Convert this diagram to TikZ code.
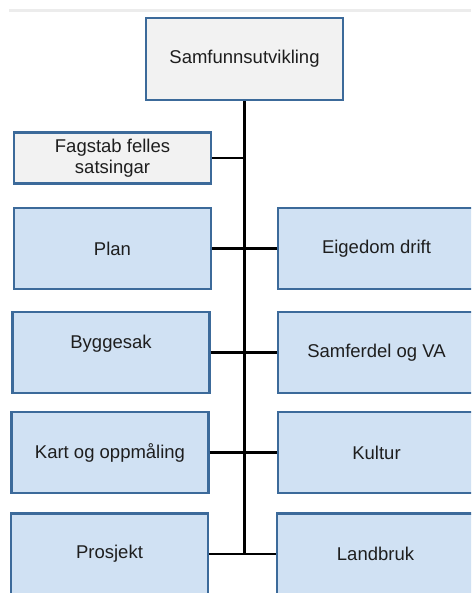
\documentclass[tikz,border=0pt]{standalone}
\usepackage{fontspec}
\setmainfont{Liberation Sans}
\usetikzlibrary{positioning}
\definecolor{unitblue}{HTML}{D0E1F3}
\definecolor{unitborder}{HTML}{3C6A9A}
\definecolor{headgray}{HTML}{F2F2F2}
\definecolor{bandgray}{HTML}{ECECEC}
\definecolor{textdark}{HTML}{1E1E1E}
\tikzset{
  x=1pt, y=-1pt,
  unit/.style={draw=unitborder, line width=2.3pt, fill=unitblue, text=textdark, align=center,
    minimum width=197pt, minimum height=81pt, inner sep=0pt,
    font=\fontsize{18.5}{21}\selectfont},
  head/.style={unit, fill=headgray},
  tie/.style={draw=black, line width=2.5pt}
}

\begin{document}
\begin{tikzpicture}
  \useasboundingbox (0,0) rectangle (471,593);
  \clip (0,0) rectangle (471,593);

  \fill[bandgray] (9,9) rectangle (471,12);

  \node[head, minimum height=82pt] (samf) at (244.5,59) {Samfunnsutvikling};
  \node[head, minimum height=51pt] (fag) at (112.5,158) {Fagstab felles\\satsingar};

  \node[unit] (plan)   at (112.5,248.5) {Plan};
  \node[unit] (eig)    at (376.5,248.5) {Eigedom drift};
  \node[unit, text depth=21pt] (bygg) at (111,352.5) {Byggesak};
  \node[unit] (samfva) at (376.5,352.5) {Samferdel og VA};
  \node[unit] (kart)   at (110,452.5) {Kart og oppmåling};
  \node[unit] (kult)   at (376.5,452.5) {Kultur};
  \node[unit] (pros)   at (109.5,554) {Prosjekt};
  \node[unit] (land)   at (375.5,554) {Landbruk};

  \coordinate (spineend) at (pros.east -| samf.south);

  \begin{scope}[every path/.style={tie}]
    \draw (samf.south) -- (spineend);
    \draw (fag.east) -- (fag.east -| samf.south);
    \draw (plan.east) -- (eig.west);
    \draw (bygg.east) -- (samfva.west);
    \draw (kart.east) -- (kult.west);
    \draw (pros.east) -- (land.west);
  \end{scope}
\end{tikzpicture}
\end{document}
